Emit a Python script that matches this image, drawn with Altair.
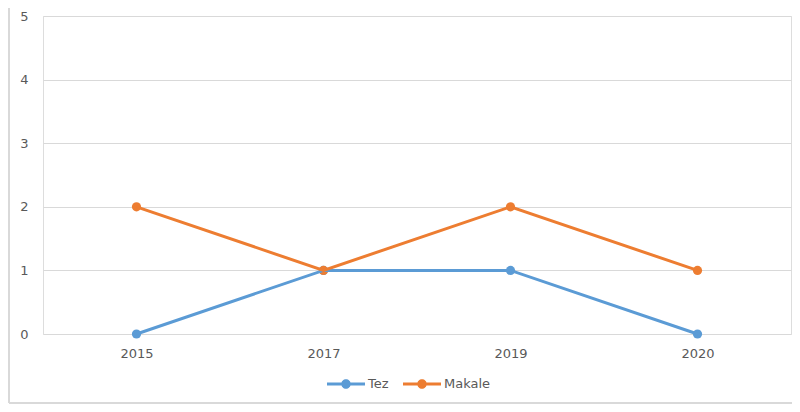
import altair as alt
import pandas as pd

years = ["2015", "2017", "2019", "2020"]
tez = [0, 1, 1, 0]
makale = [2, 1, 2, 1]
series_names = ["Tez", "Makale"]
series_colors = ["#5B9BD5", "#ED7D31"]
y_ticks = [0, 1, 2, 3, 4, 5]

rows = []
for name, vals in zip(series_names, [tez, makale]):
    for yr, v in zip(years, vals):
        rows.append({"Yıl": yr, "Değer": v, "Seri": name})
df = pd.DataFrame(rows)

FONT = "DejaVu Sans"
TXT = "#595959"
GRID = "#D9D9D9"

legend_path = ("M-1,-0.08H1V0.08H-1Z "
               "M0.25,0A0.25,0.25,0,1,1,-0.25,0A0.25,0.25,0,1,1,0.25,0Z")

x_enc = alt.X("Yıl:N", sort=years, title=None,
              scale=alt.Scale(paddingInner=0, paddingOuter=0),
              axis=alt.Axis(labelAngle=0, ticks=False, domain=False,
                            labelFont=FONT, labelFontSize=13, labelColor=TXT,
                            labelPadding=13, grid=False))
y_enc = alt.Y("Değer:Q", title=None,
              scale=alt.Scale(domain=[0, 5], nice=False),
              axis=alt.Axis(values=y_ticks, ticks=False, domain=False,
                            labelFont=FONT, labelFontSize=13, labelColor=TXT,
                            labelPadding=15, gridColor=GRID, gridWidth=1))
color_enc = alt.Color("Seri:N",
                      scale=alt.Scale(domain=series_names, range=series_colors),
                      sort=series_names,
                      legend=alt.Legend(title=None, orient="none",
                                        direction="horizontal",
                                        legendX=284, legendY=349,
                                        symbolType=legend_path,
                                        symbolSize=1444,
                                        symbolStrokeWidth=0,
                                        labelFont=FONT, labelFontSize=13,
                                        labelColor=TXT, labelOffset=3,
                                        columnPadding=14))

base = alt.Chart(df)
points = base.mark_circle(size=85, opacity=1).encode(x=x_enc, y=y_enc, color=color_enc)
lines = base.mark_line(strokeWidth=3).encode(x=x_enc, y=y_enc, color=color_enc)

border_df = pd.DataFrame({"k": [0]})
left_border = alt.Chart(border_df).mark_rule(color=GRID, strokeWidth=2).encode(
    x=alt.value(-34), y=alt.value(-8), y2=alt.value(387))
bottom_border = alt.Chart(border_df).mark_rule(color=GRID, strokeWidth=2).encode(
    x=alt.value(-34), x2=alt.value(749), y=alt.value(387))

chart = alt.layer(points, lines, left_border, bottom_border).properties(
    width=748, height=318,
    autosize=alt.AutoSizeParams(type="none"),
    padding={"left": 35, "top": 8, "right": 1, "bottom": 70},
).configure_view(stroke=None).configure(background="white")

chart.save("out.html", embed_options={"renderer": "svg", "actions": False})
